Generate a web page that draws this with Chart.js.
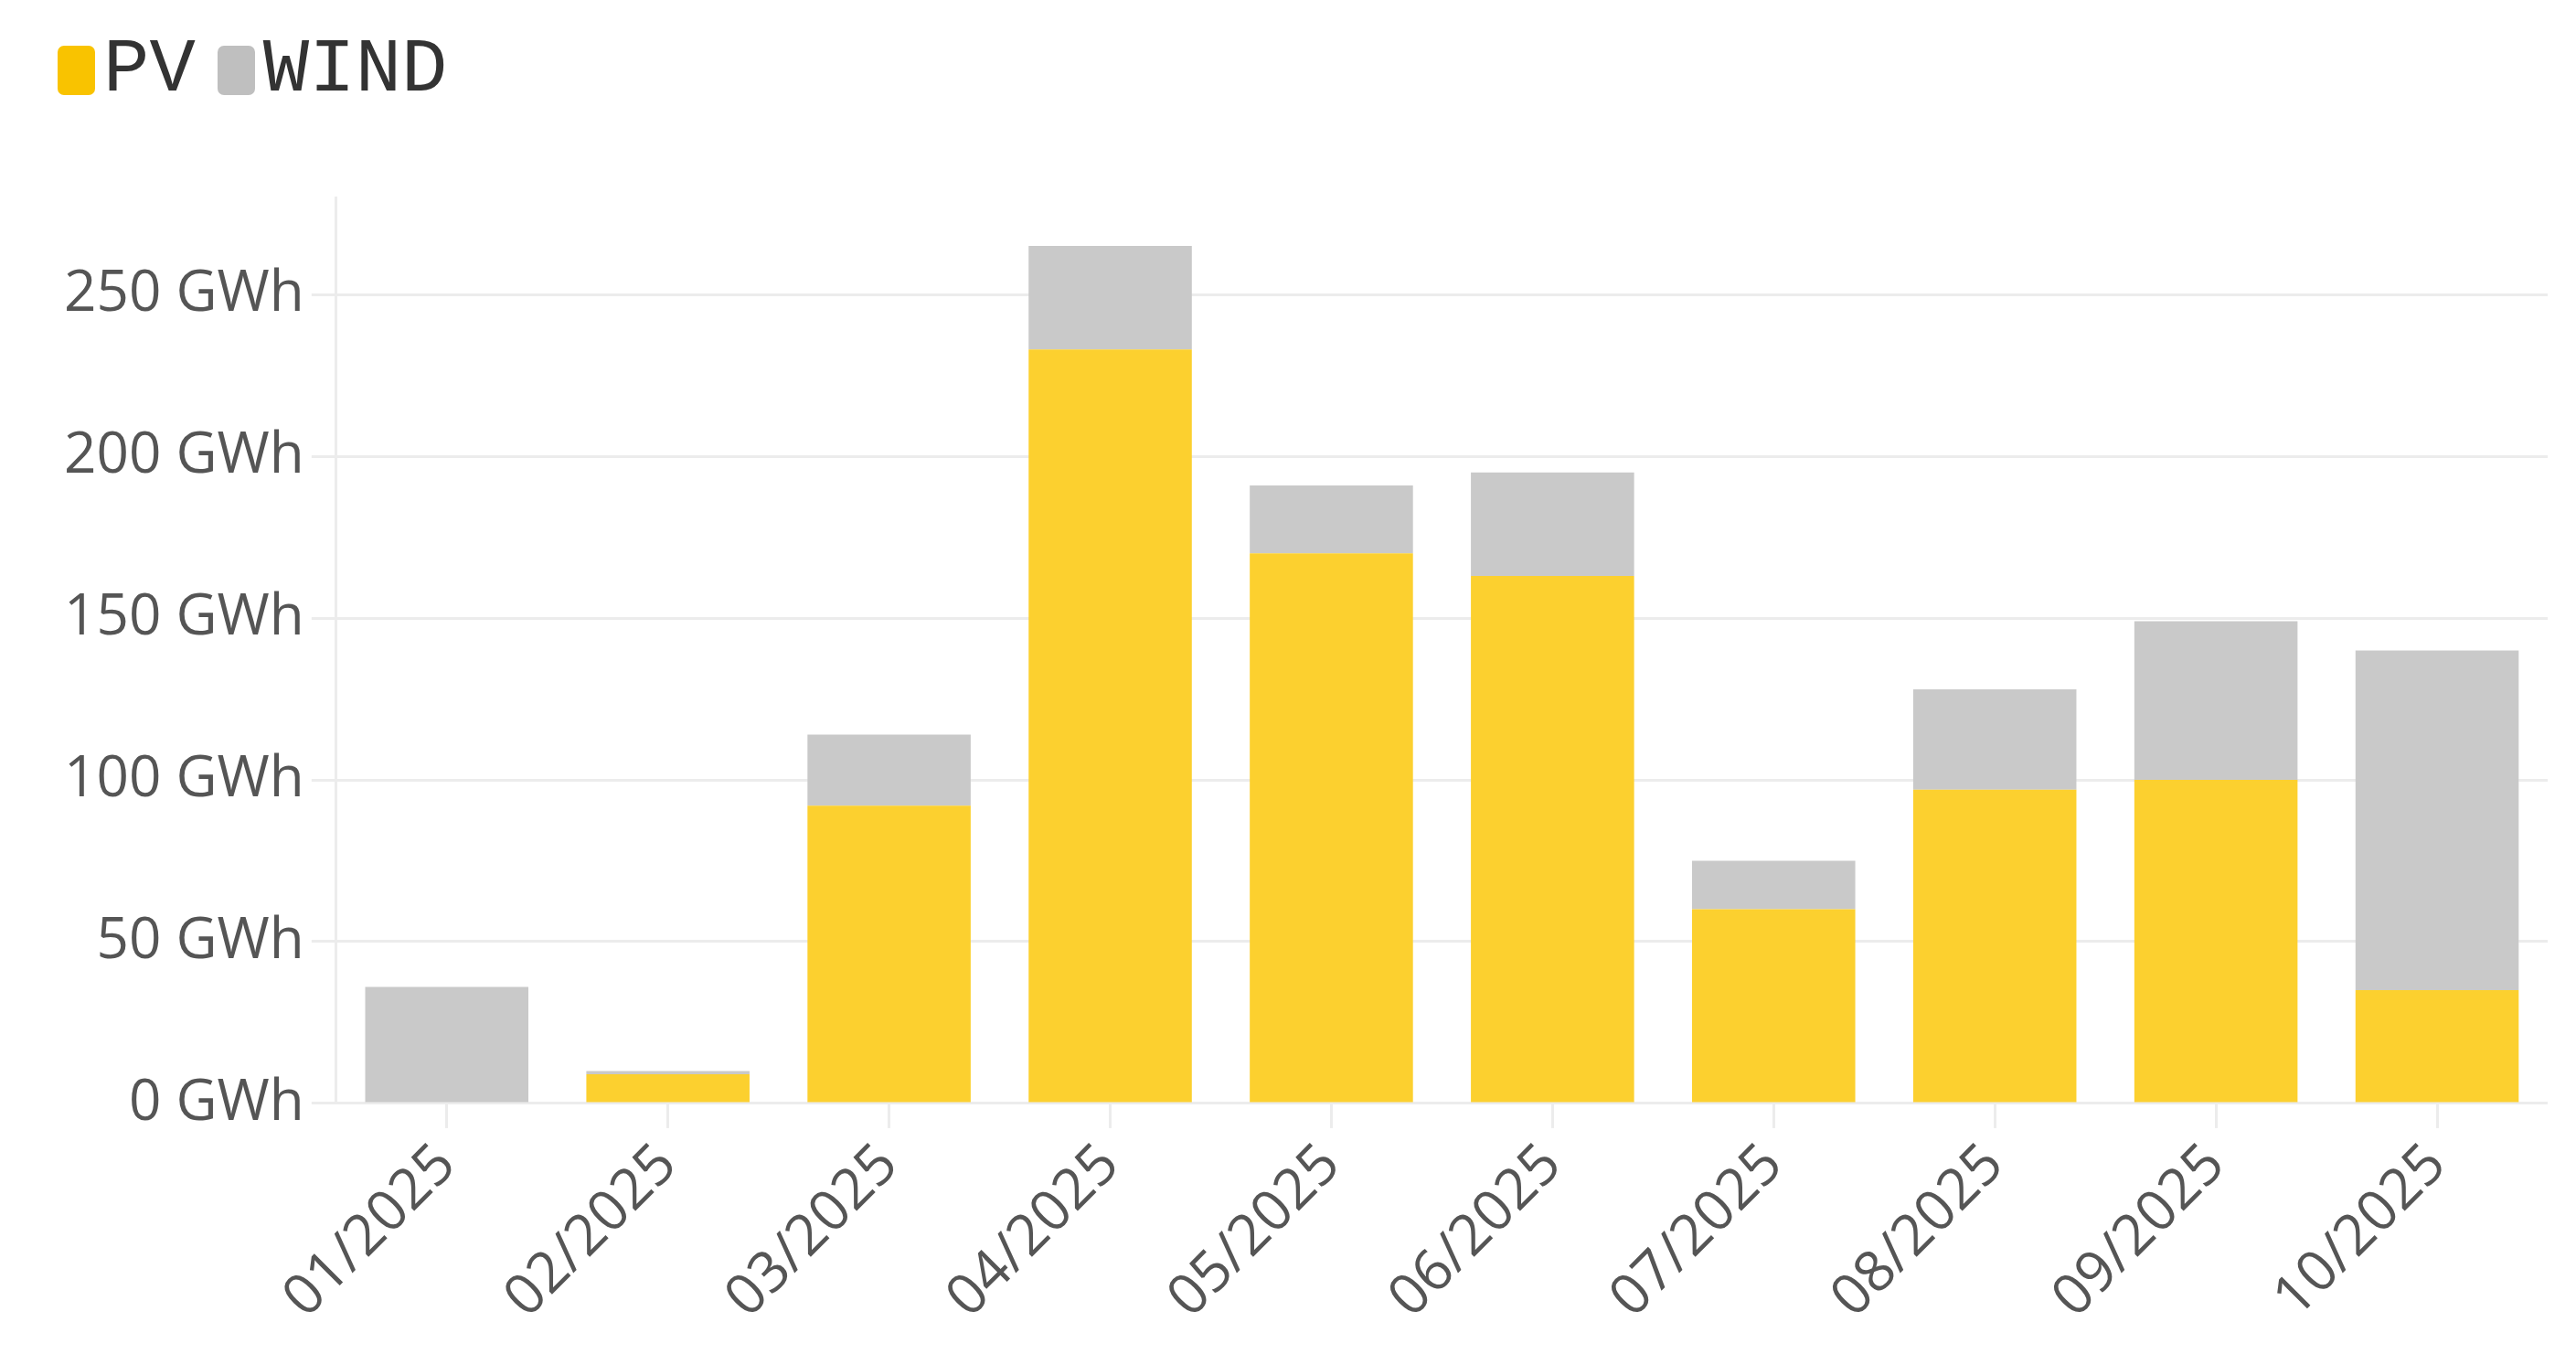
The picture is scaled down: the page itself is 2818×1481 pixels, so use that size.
<!DOCTYPE html>
<html>
<head>
<meta charset="utf-8">
<script src="https://cdn.jsdelivr.net/npm/chart.js@4.4.1/dist/chart.umd.min.js"></script>
<style>
  html, body { margin: 0; padding: 0; background: #ffffff; }
  #wrap { position: relative; width: 2818px; height: 1481px; }
  #legend {
    position: absolute; left: 63px; top: 36px;
    display: flex; align-items: center;
    font-family: 'Liberation Mono', monospace; font-size: 84px; color: #333333;
    line-height: 82px;
  }
  #legend .box { display: inline-block; width: 41px; height: 54px; border-radius: 7px; }
  #legend .txt { margin-left: 9px; margin-right: 24px; }
</style>
</head>
<body>
<div id="wrap">
  <div id="legend"></div>
  <canvas id="energyChart"></canvas>
</div>
<script>
const months = ["01/2025", "02/2025", "03/2025", "04/2025", "05/2025",
                "06/2025", "07/2025", "08/2025", "09/2025", "10/2025"];
const pvValues = [0, 9, 92, 233, 170, 163, 60, 97, 100, 35];
const windValues = [36, 1, 22, 32, 21, 32, 15, 31, 49, 105];
const yTicks = [0, 50, 100, 150, 200, 250];

const pvColor = '#fcd02f';
const windColor = '#c9c9c9';
const gridColor = '#ececec';
const tickFont = { family: "'Open Sans', sans-serif", size: 62 };

// Legend drawn as HTML so the box/text spacing can match
const legendItems = [
    { label: 'PV', color: '#f9c300' },
    { label: 'WIND', color: '#bfbfbf' }
];
const legendEl = document.getElementById('legend');
legendItems.forEach(item => {
    const box = document.createElement('span');
    box.className = 'box';
    box.style.background = item.color;
    const txt = document.createElement('span');
    txt.className = 'txt';
    txt.textContent = item.label;
    legendEl.appendChild(box);
    legendEl.appendChild(txt);
});

const ctx = document.getElementById('energyChart');
new Chart(ctx, {
    type: 'bar',
    data: {
        labels: months,
        datasets: [
            {
                label: 'PV',
                data: pvValues,
                backgroundColor: pvColor,
                borderWidth: 0
            },
            {
                label: 'WIND',
                data: windValues,
                backgroundColor: windColor,
                borderWidth: 0
            }
        ]
    },
    options: {
        responsive: true,
        maintainAspectRatio: false,
        devicePixelRatio: 1,
        animation: false,
        layout: {
            padding: { top: 216, left: 62, right: 31, bottom: 20 }
        },
        datasets: {
            bar: { categoryPercentage: 0.82, barPercentage: 0.9 }
        },
        plugins: {
            legend: { display: false },
            tooltip: { enabled: false }
        },
        scales: {
            x: {
                stacked: true,
                grid: {
                    offset: false,
                    drawOnChartArea: false,
                    drawTicks: true,
                    tickLength: 27,
                    color: gridColor,
                    lineWidth: 3
                },
                border: { display: false },
                ticks: {
                    color: '#555555',
                    font: tickFont,
                    minRotation: 45,
                    maxRotation: 45,
                    padding: 4
                }
            },
            y: {
                stacked: true,
                min: 0,
                max: 280,
                afterBuildTicks: function (scale) {
                    scale.ticks = yTicks.map(v => ({ value: v }));
                },
                grid: {
                    color: gridColor,
                    lineWidth: 3,
                    tickLength: 27
                },
                border: { display: true, color: gridColor, width: 3 },
                ticks: {
                    color: '#555555',
                    font: tickFont,
                    padding: 8,
                    callback: function (value) {
                        return value + ' GWh';
                    }
                }
            }
        }
    }
});
</script>
</body>
</html>
